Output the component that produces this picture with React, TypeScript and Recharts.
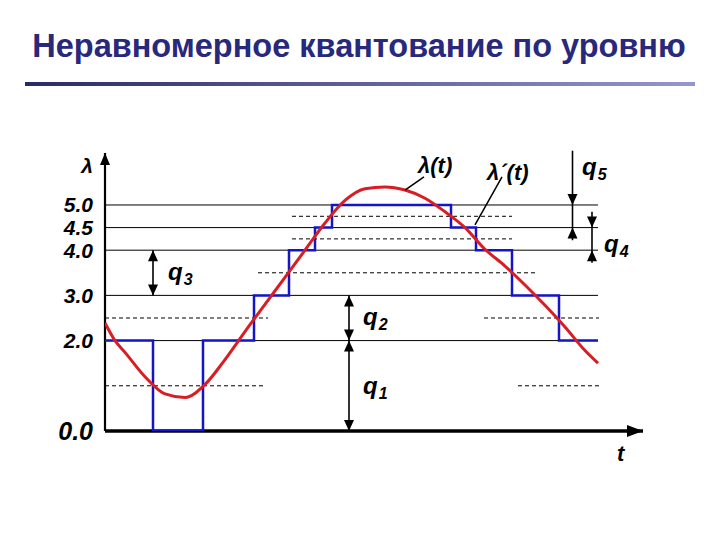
import React from "react";
import { LineChart, Line, XAxis, YAxis, ReferenceLine, ReferenceDot } from "recharts";

// analog signal λ(t) (t in arbitrary time units)
const curveT = [0, 1, 2, 4, 6, 8, 10, 12, 14, 16, 18, 20, 22, 24, 26, 28, 30, 32, 34, 36, 38, 40, 42, 44, 46, 48, 49.3];
const curveV = [2.39, 2.0, 1.74, 1.2, 0.82, 0.74, 1.03, 1.58, 2.2, 2.8, 3.4, 4.0, 4.6, 5.1, 5.36, 5.4, 5.33, 5.15, 4.85, 4.5, 4.02, 3.65, 3.23, 2.78, 2.3, 1.78, 1.5];

// quantized signal λ´(t)
const stepT = [0, 4.8, 9.8, 14.9, 18.4, 21.0, 22.7, 34.6, 37.1, 40.7, 45.4, 49.3];
const stepV = [2, 0, 2, 3, 4, 4.5, 5, 4.5, 4, 3, 2, 2];

// quantization levels and thresholds
const levels = [2, 3, 4, 4.5, 5];
const levelEnd = 49.3;
const yTicks = [0, 2, 3, 4, 4.5, 5];
const thresholds = [
  { v: 1, from: 0, to: 15.8 },
  { v: 1, from: 41.3, to: 49.4 },
  { v: 2.5, from: 0, to: 16.3 },
  { v: 2.5, from: 37.9, to: 49.4 },
  { v: 3.5, from: 15.3, to: 43.0 },
  { v: 4.25, from: 18.7, to: 40.7 },
  { v: 4.75, from: 18.7, to: 40.7 }
];

// q-interval arrows: [t, from, to, heads]
const arrows: [number, number, number, string][] = [
  [4.8, 3, 4, "both"],
  [24.4, 2, 3, "both"],
  [24.4, 0, 2, "both"],
  [46.75, 6.2, 5, "end"],
  [46.75, 5, 4.5, "none"],
  [46.75, 4.22, 4.5, "end"],
  [48.7, 4.85, 4.5, "end"],
  [48.7, 4.5, 4, "none"],
  [48.7, 3.72, 4, "end"]
];

const labels = [
  { t: 6.3, v: 3.34, main: "q", sub: "3" },
  { t: 25.8, v: 2.35, main: "q", sub: "2" },
  { t: 25.8, v: 0.82, main: "q", sub: "1" },
  { t: 47.7, v: 5.66, main: "q", sub: "5" },
  { t: 49.9, v: 3.96, main: "q", sub: "4" },
  { t: 31.3, v: 5.71, main: "λ(t)", sub: "" },
  { t: 38.2, v: 5.55, main: "λ´(t)", sub: "" },
  { t: 51.2, v: -0.66, main: "t", sub: "" }
];

const FONT = "'Liberation Sans', Arial, sans-serif";

const curveData = curveT.map((t, i) => ({ t, v: curveV[i] }));
const stepData = stepT.map((t, i) => ({ t, v: stepV[i] }));

function arrowShape(heads: string, width = 1.6, len = 11, half = 5) {
  return (p: any) => {
    const { x1, y1, x2, y2 } = p;
    const dx = x2 - x1;
    const dy = y2 - y1;
    const d = Math.hypot(dx, dy) || 1;
    const ux = dx / d;
    const uy = dy / d;
    const head = (tx: number, ty: number, sx: number, sy: number) => {
      const bx = tx - sx * len;
      const by = ty - sy * len;
      return `${tx},${ty} ${bx - sy * half},${by + sx * half} ${bx + sy * half},${by - sx * half}`;
    };
    return (
      <g>
        <line x1={x1} y1={y1} x2={x2} y2={y2} stroke="#000" strokeWidth={width} />
        {(heads === "end" || heads === "both") && <polygon points={head(x2, y2, ux, uy)} fill="#000" />}
        {heads === "both" && <polygon points={head(x1, y1, -ux, -uy)} fill="#000" />}
      </g>
    );
  };
}

function YTick(props: any) {
  const { y, payload } = props;
  const zero = payload.value === 0;
  return (
    <text
      x={93}
      y={y}
      dy={zero ? 9 : 7.5}
      textAnchor="end"
      fontFamily={FONT}
      fontWeight="bold"
      fontStyle="italic"
      fontSize={zero ? 25 : 21}
      fill="#000"
    >
      {payload.value.toFixed(1)}
    </text>
  );
}

function textShape(main: string, sub: string) {
  return (p: any) => (
    <text x={p.cx} y={p.cy} fontFamily={FONT} fontWeight="bold" fontStyle="italic" fontSize={sub ? 24 : 22} fill="#000">
      {main}
      {sub && (
        <tspan fontSize={16} dx={1} dy={5}>
          {sub}
        </tspan>
      )}
    </text>
  );
}

export default function App() {
  return (
    <div style={{ position: "absolute", left: 0, top: 0, width: 720, height: 540, background: "#fff", overflow: "hidden" }}>
      <div
        style={{
          position: "absolute",
          left: 0,
          top: 30,
          width: 718,
          textAlign: "center",
          fontFamily: FONT,
          fontWeight: "bold",
          fontSize: 32.5,
          lineHeight: "32px",
          color: "#28287c"
        }}
      >
        Неравномерное квантование по уровню
      </div>
      <div
        style={{
          position: "absolute",
          left: 25,
          top: 82,
          width: 670,
          height: 4,
          background: "linear-gradient(to right, #2a2a68, #9696cf)"
        }}
      />
      <div style={{ position: "absolute", left: 0, top: 0 }}>
        <LineChart width={720} height={540} margin={{ top: 153, right: 75, bottom: 109, left: 45 }}>
          <XAxis type="number" dataKey="t" domain={[0, 54]} hide allowDataOverflow />
          <YAxis
            type="number"
            domain={[0, 6.15]}
            ticks={yTicks}
            width={60}
            axisLine={false}
            tickLine={false}
            tick={<YTick />}
            interval={0}
            allowDataOverflow
          />
          {levels.map((v) => (
            <ReferenceLine
              key={`l${v}`}
              segment={[{ x: 0, y: v }, { x: levelEnd, y: v }]}
              stroke="#000"
              strokeWidth={1}
              ifOverflow="visible"
            />
          ))}
          {thresholds.map((d, i) => (
            <ReferenceLine
              key={`d${i}`}
              segment={[{ x: d.from, y: d.v }, { x: d.to, y: d.v }]}
              stroke="#000"
              strokeWidth={1}
              strokeDasharray="4 3"
              ifOverflow="visible"
            />
          ))}
          <ReferenceLine
            segment={[{ x: 0, y: 0 }, { x: 0, y: 6.15 }]}
            ifOverflow="visible"
            shape={arrowShape("end", 2.2, 12, 5)}
          />
          <ReferenceLine
            segment={[{ x: 0, y: 0 }, { x: 53.8, y: 0 }]}
            ifOverflow="visible"
            shape={arrowShape("end", 3.5, 16, 6)}
          />
          <Line
            data={stepData}
            dataKey="v"
            type="stepAfter"
            stroke="#1414c8"
            strokeWidth={2.5}
            dot={false}
            isAnimationActive={false}
          />
          <Line
            data={curveData}
            dataKey="v"
            type="monotone"
            stroke="#d81e24"
            strokeWidth={3}
            dot={false}
            isAnimationActive={false}
          />
          {arrows.map(([t, a, b, h], i) => (
            <ReferenceLine
              key={`a${i}`}
              segment={[{ x: t, y: a }, { x: t, y: b }]}
              ifOverflow="visible"
              shape={arrowShape(h)}
            />
          ))}
          <ReferenceLine
            segment={[{ x: 30.0, y: 5.33 }, { x: 31.9, y: 5.62 }]}
            stroke="#000"
            strokeWidth={1.5}
            ifOverflow="visible"
          />
          <ReferenceLine
            segment={[{ x: 37.0, y: 4.56 }, { x: 39.7, y: 5.62 }]}
            stroke="#000"
            strokeWidth={1.5}
            ifOverflow="visible"
          />
          <ReferenceDot x={-1.2} y={5.71} r={0} ifOverflow="visible" shape={(p: any) => (
            <text x={p.cx} y={p.cy} textAnchor="end" fontFamily={FONT} fontWeight="bold" fontStyle="italic" fontSize={21} fill="#000">
              λ
            </text>
          )} />
          {labels.map((l, i) => (
            <ReferenceDot key={`t${i}`} x={l.t} y={l.v} r={0} ifOverflow="visible" shape={textShape(l.main, l.sub)} />
          ))}
        </LineChart>
      </div>
    </div>
  );
}
